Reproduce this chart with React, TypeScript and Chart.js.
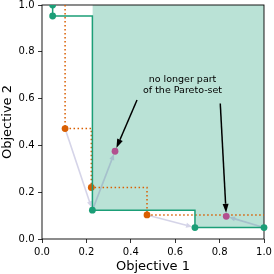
import React, { useEffect, useRef } from 'react';
import { Chart, registerables } from 'chart.js';

Chart.register(...registerables);

// ---- data ----
const paretoX = [0.048, 0.048, 0.227, 0.689, 1.0];
const paretoY = [1.0, 0.953, 0.123, 0.049, 0.049];
const oldFrontX = [0.104, 0.222, 0.473];
const oldFrontY = [0.472, 0.22, 0.103];
const droppedX = [0.329, 0.83];
const droppedY = [0.375, 0.097];
const xTicks = [0, 0.2, 0.4, 0.6, 0.8, 1.0];
const yTicks = [0, 0.2, 0.4, 0.6, 0.8, 1.0];
const xTickLabels = ['0.0', '0.2', '0.4', '0.6', '0.8', '1.0'];
const yTickLabels = ['0.0', '0.2', '0.4', '0.6', '0.8', '1.0'];
const xTitle = 'Objective 1';
const yTitle = 'Objective 2';
const noteLines = ['no longer part', 'of the Pareto-set'];
const noteAnchor = { x: 0.633, y: 0.671 };
const noteArrowFromX = [0.428, 0.803];
const noteArrowFromY = [0.594, 0.579];
// old point -> new front point
const replaceFrom = [0, 2];
const replaceTo = [2, 3];
// new front point -> dropped point
const dropFrom = [2, 4];
const dropTo = [0, 1];

const GREEN = '#1b9e77';
const ORANGE = '#d95f02';
const MAGENTA = 'rgb(178,80,143)';
const FILL = 'rgba(27,158,119,0.3)';
const SOFT = 'rgba(117,112,179,0.3)';
const FONT = 'DejaVu Sans';

function pts(xs: number[], ys: number[]) {
  return xs.map((x, i) => ({ x, y: ys[i] }));
}

function drawArrow(
  ctx: CanvasRenderingContext2D,
  x1: number, y1: number, x2: number, y2: number,
  shrinkA: number, shrinkB: number, color: string, lw: number,
  headLen: number, headHalf: number
) {
  const dx = x2 - x1, dy = y2 - y1;
  const len = Math.hypot(dx, dy) || 1;
  const ux = dx / len, uy = dy / len;
  const sx = x1 + ux * shrinkA, sy = y1 + uy * shrinkA;
  const ex = x2 - ux * shrinkB, ey = y2 - uy * shrinkB;
  const bx = ex - ux * headLen, by = ey - uy * headLen;
  ctx.save();
  ctx.strokeStyle = color;
  ctx.lineWidth = lw;
  ctx.beginPath();
  ctx.moveTo(sx, sy);
  ctx.lineTo(bx, by);
  ctx.stroke();
  ctx.fillStyle = color;
  ctx.beginPath();
  ctx.moveTo(ex, ey);
  ctx.lineTo(bx - uy * headHalf, by + ux * headHalf);
  ctx.lineTo(bx + uy * headHalf, by - ux * headHalf);
  ctx.closePath();
  ctx.fill();
  ctx.restore();
}

const decorPlugin = {
  id: 'decor',
  beforeDatasetDraw(chart: any, args: any) {
    if (args.index !== 3) return;
    const ctx = chart.ctx as CanvasRenderingContext2D;
    const a = chart.chartArea;
    const sx = chart.scales.x, sy = chart.scales.y;
    // frame
    ctx.save();
    ctx.strokeStyle = '#000';
    ctx.lineWidth = 0.9;
    ctx.strokeRect(a.left, a.top, a.right - a.left, a.bottom - a.top);
    ctx.restore();
    // soft arrows: old -> new front
    replaceFrom.forEach((fi, k) => {
      const ti = replaceTo[k];
      drawArrow(ctx,
        sx.getPixelForValue(oldFrontX[fi]), sy.getPixelForValue(oldFrontY[fi]),
        sx.getPixelForValue(paretoX[ti]), sy.getPixelForValue(paretoY[ti]),
        2, 3, SOFT, 1.6, 6, 2.6);
    });
    dropFrom.forEach((fi, k) => {
      const ti = dropTo[k];
      drawArrow(ctx,
        sx.getPixelForValue(paretoX[fi]), sy.getPixelForValue(paretoY[fi]),
        sx.getPixelForValue(droppedX[ti]), sy.getPixelForValue(droppedY[ti]),
        2, 3, SOFT, 1.6, 6, 2.6);
    });
  },
  afterDatasetsDraw(chart: any) {
    const ctx = chart.ctx as CanvasRenderingContext2D;
    const sx = chart.scales.x, sy = chart.scales.y;
    noteArrowFromX.forEach((fx, k) => {
      drawArrow(ctx,
        sx.getPixelForValue(fx), sy.getPixelForValue(noteArrowFromY[k]),
        sx.getPixelForValue(droppedX[k]), sy.getPixelForValue(droppedY[k]),
        0, 3.5, '#000', 1.5, 9, 3);
    });
    ctx.save();
    ctx.fillStyle = '#000';
    ctx.font = `9.5px "${FONT}"`;
    ctx.textAlign = 'center';
    ctx.textBaseline = 'alphabetic';
    const cx = sx.getPixelForValue(noteAnchor.x);
    const cy = sy.getPixelForValue(noteAnchor.y);
    noteLines.forEach((t, i) => ctx.fillText(t, cx, cy + i * 11.3));
    ctx.restore();
  },
};

export default function App() {
  const ref = useRef<HTMLCanvasElement>(null);
  useEffect(() => {
    if (!ref.current) return;
    const tickFont = { family: FONT, size: 10 };
    const titleFont = { family: FONT, size: 13 };
    const chart = new Chart(ref.current, {
      type: 'line',
      data: {
        datasets: [
          {
            data: pts(droppedX, droppedY),
            showLine: false,
            pointRadius: 3.4,
            pointBorderWidth: 0,
            pointBackgroundColor: MAGENTA,
            pointBorderColor: MAGENTA,
          },
          {
            data: pts(paretoX, paretoY),
            stepped: true,
            borderColor: GREEN,
            borderWidth: 1.5,
            pointRadius: 3.4,
            pointBorderWidth: 0,
            pointBackgroundColor: GREEN,
            pointBorderColor: GREEN,
            clip: { left: 10, right: 10, top: 0, bottom: 10 },
          },
          {
            data: pts(oldFrontX, oldFrontY),
            showLine: false,
            pointRadius: 3.4,
            pointBorderWidth: 0,
            pointBackgroundColor: ORANGE,
            pointBorderColor: ORANGE,
          },
          {
            data: [
              { x: oldFrontX[0], y: 1.0 },
              ...pts(oldFrontX, oldFrontY),
              { x: 1.0, y: oldFrontY[oldFrontY.length - 1] },
            ],
            stepped: true,
            borderColor: ORANGE,
            borderWidth: 1.5,
            borderDash: [1.5, 2.5],
            pointRadius: 0,
          },
          {
            data: pts(paretoX.slice(2), paretoY.slice(2)),
            stepped: true,
            borderWidth: 0,
            borderColor: 'rgba(0,0,0,0)',
            backgroundColor: FILL,
            fill: 'end',
            pointRadius: 0,
          },
        ] as any,
      },
      options: {
        animation: false,
        responsive: false,
        devicePixelRatio: 1,
        events: [],
        layout: { padding: { left: 0, right: 10, top: 5, bottom: 0 } },
        plugins: { legend: { display: false }, tooltip: { enabled: false } },
        scales: {
          x: {
            type: 'linear',
            min: 0,
            max: 1,
            afterBuildTicks: (s: any) => { s.ticks = xTicks.map((v) => ({ value: v })); },
            afterFit: (s: any) => { s.height = 35; s.paddingLeft = 0; s.paddingRight = 0; },
            ticks: {
              callback: (_v: any, i: number) => xTickLabels[i],
              color: '#000', font: tickFont, padding: 3, maxRotation: 0, autoSkip: false,
            },
            grid: { drawOnChartArea: false, drawTicks: true, tickLength: 4, color: '#000', lineWidth: 0.8 },
            border: { display: false },
            title: { display: true, text: xTitle, color: '#000', font: titleFont, padding: { top: 0, bottom: 0 } },
          },
          y: {
            type: 'linear',
            min: 0,
            max: 1,
            afterBuildTicks: (s: any) => { s.ticks = yTicks.map((v) => ({ value: v })); },
            afterFit: (s: any) => { s.width = 42; s.paddingTop = 0; s.paddingBottom = 0; },
            ticks: {
              callback: (_v: any, i: number) => yTickLabels[i],
              color: '#000', font: tickFont, padding: 3.5, autoSkip: false,
            },
            grid: { drawOnChartArea: false, drawTicks: true, tickLength: 4, color: '#000', lineWidth: 0.8 },
            border: { display: false },
            title: { display: true, text: yTitle, color: '#000', font: titleFont, padding: { top: 0, bottom: 0 } },
          },
        },
      } as any,
      plugins: [decorPlugin],
    });
    return () => chart.destroy();
  }, []);
  return (
    <div style={{ position: 'fixed', left: 0, top: 0, width: 274, height: 274, background: '#fff' }}>
      <canvas ref={ref} width={274} height={274} />
    </div>
  );
}
